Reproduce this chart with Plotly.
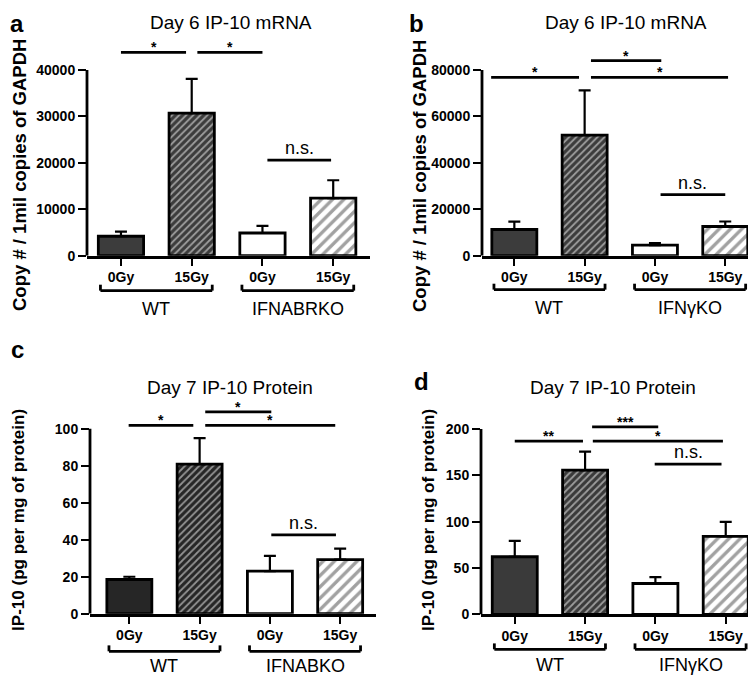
import plotly.graph_objects as go

W, H = 756, 677
FONT = "Liberation Sans, Arial, sans-serif"

# ---------------- data ----------------
dose_labels = ["0Gy", "15Gy", "0Gy", "15Gy"]

a_title = "Day 6 IP-10 mRNA"
a_groups = ["WT", "IFNABRKO"]
a_mean = [4200, 30700, 4900, 12400]
a_err = [1000, 7400, 1550, 3850]
a_ticks = [0, 10000, 20000, 30000, 40000]
a_ytitle = "Copy # / 1mil copies of GAPDH"
a_sig_x0 = [0.0, 1.08, 2.07]
a_sig_x1 = [0.92, 2.0, 2.97]
a_sig_y = [43800, 43800, 20600]
a_sig_text = ["*", "*", "n.s."]

b_title = "Day 6 IP-10 mRNA"
b_groups = ["WT", "IFNγKO"]
b_mean = [11300, 51900, 4550, 12600]
b_err = [3400, 19300, 850, 2150]
b_ticks = [0, 20000, 40000, 60000, 80000]
b_ytitle = "Copy # / 1mil copies of GAPDH"
b_sig_x0 = [-0.33, 1.09, 1.09, 2.08]
b_sig_x1 = [0.92, 2.09, 3.04, 3.0]
b_sig_y = [76800, 84000, 76800, 26300]
b_sig_text = ["*", "*", "*", "n.s."]

c_title = "Day 7 IP-10 Protein"
c_groups = ["WT", "IFNABKO"]
c_mean = [18.5, 80.8, 23.0, 29.2]
c_err = [1.5, 14.1, 8.3, 6.0]
c_ticks = [0, 20, 40, 60, 80, 100]
c_ytitle = "IP-10 (pg per mg of protein)"
c_sig_x0 = [-0.01, 1.08, 1.08, 2.02]
c_sig_x1 = [0.91, 2.02, 2.93, 2.94]
c_sig_y = [101.8, 109.1, 101.8, 42.6]
c_sig_text = ["*", "*", "*", "n.s."]

d_title = "Day 7 IP-10 Protein"
d_groups = ["WT", "IFNγKO"]
d_mean = [62.2, 155.6, 33.4, 84.2]
d_err = [17.1, 19.9, 6.8, 15.7]
d_ticks = [0, 50, 100, 150, 200]
d_ytitle = "IP-10 (pg per mg of protein)"
d_sig_x0 = [0.0, 1.1, 1.11, 1.99]
d_sig_x1 = [0.97, 2.04, 2.96, 2.94]
d_sig_y = [186.9, 202.2, 186.9, 162.0]
d_sig_text = ["**", "***", "*", "n.s."]

panels = [
    dict(letter="a", title=a_title, groups=a_groups, mean=a_mean, err=a_err, ticks=a_ticks,
         ytitle=a_ytitle, sx0=a_sig_x0, sx1=a_sig_x1, sy=a_sig_y, st=a_sig_text, dark="#3c3c3c"),
    dict(letter="b", title=b_title, groups=b_groups, mean=b_mean, err=b_err, ticks=b_ticks,
         ytitle=b_ytitle, sx0=b_sig_x0, sx1=b_sig_x1, sy=b_sig_y, st=b_sig_text, dark="#3c3c3c"),
    dict(letter="c", title=c_title, groups=c_groups, mean=c_mean, err=c_err, ticks=c_ticks,
         ytitle=c_ytitle, sx0=c_sig_x0, sx1=c_sig_x1, sy=c_sig_y, st=c_sig_text, dark="#262626"),
    dict(letter="d", title=d_title, groups=d_groups, mean=d_mean, err=d_err, ticks=d_ticks,
         ytitle=d_ytitle, sx0=d_sig_x0, sx1=d_sig_x1, sy=d_sig_y, st=d_sig_text, dark="#3a3a3a"),
]

# ---------------- geometry (pixels) ----------------
geom = [
    dict(left=79, right=362, xr=(-0.48, 3.52), y0=250.7, yax=62.7, top=30,
         letter=(9, 16), tpos=(223, 15), ytpos=(11, 169), ytsize=18.5, brk=286, grp=305),
    dict(left=474, right=751, xr=(-0.46, 3.48), y0=250.7, yax=62.7, top=40,
         letter=(408, 16), tpos=(618, 15), ytpos=(412, 170), ytsize=18.5, brk=285, grp=304),
    dict(left=82, right=368, xr=(-0.56, 3.51), y0=613.0, yax=425.7, top=395,
         letter=(9, 346), tpos=(222, 384), ytpos=(11, 518), ytsize=17, brk=651, grp=666),
    dict(left=473, right=755, xr=(-0.48, 3.53), y0=613.7, yax=426.0, top=410,
         letter=(413, 378), tpos=(605, 384), ytpos=(421, 518), ytsize=17, brk=649, grp=665),
]

fig = go.Figure()
shapes = []
annotations = []
layout = {}

for i, (p, g) in enumerate(zip(panels, geom), start=1):
    xa = "x" if i == 1 else f"x{i}"
    ya = "y" if i == 1 else f"y{i}"
    axis_max = p["ticks"][-1]
    ymax = axis_max * (g["y0"] - g["top"]) / (g["y0"] - g["yax"])

    fig.add_trace(go.Bar(
        x=[0, 1, 2, 3], y=p["mean"], width=0.64,
        xaxis=xa, yaxis=ya, showlegend=False,
        marker=dict(
            color=[p["dark"], p["dark"], "white", "white"],
            line=dict(color="black", width=2.8),
            pattern=dict(shape=["", "/", "", "/"], fgcolor="black",
                         size=[6, 5, 6, 8], solidity=[0.2, 0.35, 0.2, 0.42]),
        ),
        error_y=dict(type="data", symmetric=False, array=p["err"],
                     arrayminus=[0, 0, 0, 0], color="black", thickness=2.2, width=6),
    ))

    layout[f"xaxis{'' if i == 1 else i}"] = dict(
        domain=[g["left"] / W, g["right"] / W], range=list(g["xr"]), anchor=ya,
        showline=True, linewidth=2.8, linecolor="black", ticks="outside", ticklen=7,
        tickwidth=2, tickcolor="black", tickvals=[0, 1, 2, 3], ticktext=dose_labels,
        tickfont=dict(family=FONT, size=14, color="black", weight="bold"),
        showgrid=False, zeroline=False, fixedrange=True,
    )
    layout[f"yaxis{'' if i == 1 else i}"] = dict(
        domain=[1 - g["y0"] / H, 1 - g["top"] / H], range=[0, ymax], anchor=xa,
        showline=False, ticks="outside", ticklen=8, tickwidth=2.2, tickcolor="black",
        tickvals=p["ticks"], ticktext=[str(v) for v in p["ticks"]],
        tickfont=dict(family=FONT, size=14, color="black", weight="bold"),
        showgrid=False, zeroline=False, fixedrange=True,
    )

    # y axis line from 0 to last tick
    shapes.append(dict(type="line", xref=f"{xa} domain", yref=ya, x0=0, x1=0,
                       y0=0, y1=axis_max, line=dict(color="black", width=2.8)))

    # significance bars
    for x0, x1, yv, txt in zip(p["sx0"], p["sx1"], p["sy"], p["st"]):
        shapes.append(dict(type="line", xref=xa, yref=ya, x0=x0, x1=x1, y0=yv, y1=yv,
                           line=dict(color="black", width=2.8)))
        if txt == "n.s.":
            annotations.append(dict(xref=xa, yref=ya, x=(x0 + x1) / 2, y=yv, text=txt,
                                    showarrow=False, yanchor="bottom", yshift=0,
                                    font=dict(family=FONT, size=18, color="black")))
        else:
            annotations.append(dict(xref=xa, yref=ya, x=(x0 + x1) / 2, y=yv, text=txt,
                                    showarrow=False, yanchor="bottom", yshift=-5,
                                    font=dict(family=FONT, size=14, color="black", weight="bold")))

    # group brackets and labels
    ybr = 1 - g["brk"] / H
    yup = 1 - (g["brk"] - 6) / H
    for k, name in enumerate(p["groups"]):
        xl, xr_ = 2 * k - 0.29, 2 * k + 1 + 0.29
        shapes.append(dict(type="line", xref=xa, yref="paper", x0=xl, x1=xr_, y0=ybr, y1=ybr,
                           line=dict(color="black", width=2.8)))
        for xe in (xl, xr_):
            shapes.append(dict(type="line", xref=xa, yref="paper", x0=xe, x1=xe, y0=ybr, y1=yup,
                               line=dict(color="black", width=2.8)))
        annotations.append(dict(xref=xa, yref="paper", x=2 * k + 0.5, y=1 - g["grp"] / H,
                                text=name, showarrow=False, yanchor="middle",
                                font=dict(family=FONT, size=18, color="black")))

    # titles, letters, y-titles
    annotations.append(dict(xref="paper", yref="paper", x=g["tpos"][0] / W, y=1 - g["tpos"][1] / H,
                            text=p["title"], showarrow=False, xanchor="center", yanchor="middle",
                            font=dict(family=FONT, size=19, color="black")))
    annotations.append(dict(xref="paper", yref="paper", x=g["letter"][0] / W, y=1 - g["letter"][1] / H,
                            text=p["letter"], showarrow=False, xanchor="center", yanchor="middle",
                            font=dict(family=FONT, size=24, color="black", weight="bold")))
    annotations.append(dict(xref="paper", yref="paper", x=g["ytpos"][0] / W, y=1 - g["ytpos"][1] / H,
                            text=p["ytitle"], showarrow=False, textangle=-90,
                            xanchor="center", yanchor="middle",
                            font=dict(family=FONT, size=g["ytsize"], color="black", weight="bold")))

fig.update_layout(
    width=W, height=H, margin=dict(l=0, r=0, t=0, b=0),
    paper_bgcolor="white", plot_bgcolor="white",
    shapes=shapes, annotations=annotations, bargap=0.3,
    **layout,
)

fig.write_html("out.html", config={"displayModeBar": False})
